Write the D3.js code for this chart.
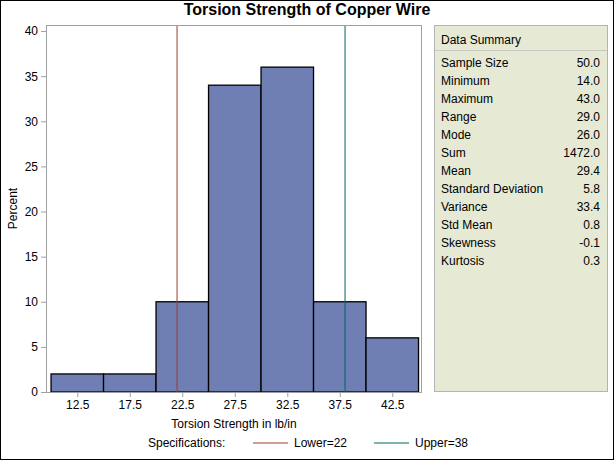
<!DOCTYPE html>
<html><head><meta charset="utf-8">
<script src="https://cdn.jsdelivr.net/npm/d3@7"></script>
<style>
body{margin:0;padding:0;background:#fff;}
svg{display:block;font-family:"Liberation Sans",Arial,sans-serif;}
</style></head>
<body><svg id="c" width="614" height="460"></svg>
<script>
const binStarts = [10, 15, 20, 25, 30, 35, 40];
const binWidth = 5;
const percents = [2, 2, 10, 34, 36, 10, 6];
const xTicks = [12.5, 17.5, 22.5, 27.5, 32.5, 37.5, 42.5];
const yTicks = [0, 5, 10, 15, 20, 25, 30, 35, 40];
const specLower = 22, specUpper = 38;
const summaryLabels = ["Sample Size","Minimum","Maximum","Range","Mode","Sum","Mean","Standard Deviation","Variance","Std Mean","Skewness","Kurtosis"];
const summaryValues = ["50.0","14.0","43.0","29.0","26.0","1472.0","29.4","5.8","33.4","0.8","-0.1","0.3"];

const svg = d3.select("#c");
svg.append("rect").attr("x",0.5).attr("y",0.5).attr("width",613).attr("height",459)
  .attr("fill","#fff").attr("stroke","#000").attr("stroke-width",1);

const L=46, R=422, T=25, B=392;
const x = d3.scaleLinear().domain([9.52, 45.33]).range([L, R]);
const y = d3.scaleLinear().domain([0, 40.67]).range([B, T]);

svg.append("text").attr("x",307).attr("y",15).attr("text-anchor","middle")
  .attr("font-size",16).attr("font-weight","bold").text("Torsion Strength of Copper Wire");

// bars
svg.append("g").selectAll("rect").data(binStarts).join("rect")
  .attr("x", (d)=>x(d)).attr("width",(d)=>x(d+binWidth)-x(d))
  .attr("y",(d,i)=>y(percents[i])).attr("height",(d,i)=>y(0)-y(percents[i]))
  .attr("fill","#6f7eb3").attr("stroke","#000").attr("stroke-width",1.3);

// spec lines
svg.append("line").attr("x1",x(specLower)).attr("x2",x(specLower)).attr("y1",T).attr("y2",B)
  .attr("stroke","#a23a2e").attr("stroke-width",1);
svg.append("line").attr("x1",x(specUpper)).attr("x2",x(specUpper)).attr("y1",T).attr("y2",B)
  .attr("stroke","#01665e").attr("stroke-width",1);

// frame
svg.append("rect").attr("x",L+0.5).attr("y",T+0.5).attr("width",R-L-1).attr("height",B-T)
  .attr("fill","none").attr("stroke","#a0a0a0");

// axes
const yAxis = d3.axisLeft(y).tickValues(yTicks).tickSize(5).tickPadding(3);
const gy = svg.append("g").attr("transform",`translate(${L},0)`).call(yAxis);
gy.select(".domain").remove();
gy.selectAll("line").attr("stroke","#a0a0a0");
gy.selectAll("text").attr("font-size",12).attr("fill","#000").attr("font-family","Liberation Sans, Arial, sans-serif");

const xAxis = d3.axisBottom(x).tickValues(xTicks).tickFormat(d3.format(".1f")).tickSize(5).tickPadding(3);
const gx = svg.append("g").attr("transform",`translate(0,${B})`).call(xAxis);
gx.select(".domain").remove();
gx.selectAll("line").attr("stroke","#a0a0a0");
gx.selectAll("text").attr("font-size",12).attr("fill","#000").attr("font-family","Liberation Sans, Arial, sans-serif");

svg.append("text").attr("x",(L+R)/2).attr("y",428).attr("text-anchor","middle")
  .attr("font-size",12).text("Torsion Strength in lb/in");
svg.append("text").attr("transform",`translate(17,${(T+B)/2}) rotate(-90)`).attr("text-anchor","middle")
  .attr("font-size",12).text("Percent");

// legend
const ly = 447;
svg.append("text").attr("x",148).attr("y",ly).attr("font-size",12).text("Specifications:");
svg.append("line").attr("x1",253).attr("x2",288).attr("y1",ly-4).attr("y2",ly-4).attr("stroke","#a23a2e");
svg.append("text").attr("x",294).attr("y",ly).attr("font-size",12).text("Lower=" + specLower);
svg.append("line").attr("x1",374).attr("x2",409).attr("y1",ly-4).attr("y2",ly-4).attr("stroke","#01665e");
svg.append("text").attr("x",415).attr("y",ly).attr("font-size",12).text("Upper=" + specUpper);

// data summary panel
const px=434, pw=173, py=T, ph=B-T;
svg.append("rect").attr("x",px+0.5).attr("y",py+0.5).attr("width",pw).attr("height",ph-1)
  .attr("fill","#e6ead4").attr("stroke","#b4b4b4");
svg.append("text").attr("x",px+7).attr("y",44).attr("font-size",12).text("Data Summary");
svg.append("line").attr("x1",px+1).attr("x2",px+pw).attr("y1",50.5).attr("y2",50.5).attr("stroke","#c8c8c0");
const rows = svg.append("g");
summaryLabels.forEach((lab,i)=>{
  const yy = 67 + i*18;
  rows.append("text").attr("x",px+7).attr("y",yy).attr("font-size",12).text(lab);
  rows.append("text").attr("x",px+166).attr("y",yy).attr("font-size",12).attr("text-anchor","end").text(summaryValues[i]);
});
</script></body></html>
